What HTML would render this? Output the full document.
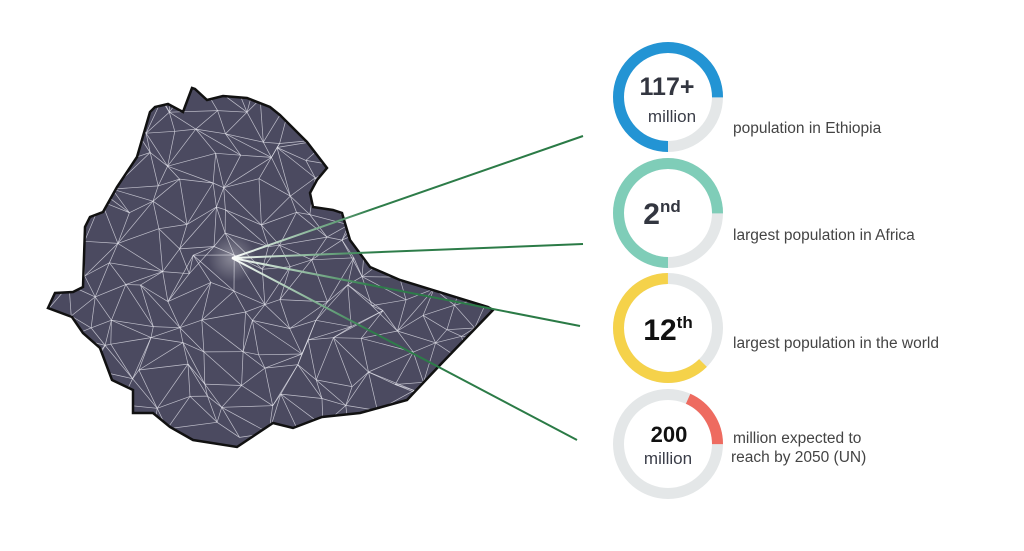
<!DOCTYPE html>
<html><head><meta charset="utf-8"><style>
html,body{margin:0;padding:0;background:#fff;}
svg{display:block;font-family:"Liberation Sans",sans-serif;}
</style></head><body>
<svg id="s" width="1024" height="551" viewBox="0 0 1024 551" xmlns="http://www.w3.org/2000/svg">
<defs>
<clipPath id="cp"><polygon id="pg" points="192,88 183,112 168,104 155,107 150,112 137,157 117,187 103,212 90,217 85,227 83,287 73,292 55,293 48,308 72,317 83,333 100,348 112,380 133,390 133,413 153,413 170,427 193,440 237,447 273,423 293,428 322,417 360,413 407,400 440,365 493,310 488,307 400,280 370,267 350,240 342,213 333,210 313,207 310,193 317,180 327,168 307,142 300,135 280,115 270,107 247,98 223,96 207,100 195,89"/></clipPath>
<radialGradient id="glow"><stop offset="0" stop-color="#fff" stop-opacity="0.35"/><stop offset="1" stop-color="#fff" stop-opacity="0"/></radialGradient>
<linearGradient id="g1" gradientUnits="userSpaceOnUse" x1="232" y1="258" x2="583" y2="136"><stop offset="0" stop-color="#fff"/><stop offset="0.4" stop-color="#2e7d4a"/><stop offset="1" stop-color="#2a7a45"/></linearGradient>
<linearGradient id="g2" gradientUnits="userSpaceOnUse" x1="232" y1="258" x2="583" y2="244"><stop offset="0" stop-color="#fff"/><stop offset="0.4" stop-color="#2e7d4a"/><stop offset="1" stop-color="#2a7a45"/></linearGradient>
<linearGradient id="g3" gradientUnits="userSpaceOnUse" x1="232" y1="258" x2="580" y2="326"><stop offset="0" stop-color="#fff"/><stop offset="0.4" stop-color="#2e7d4a"/><stop offset="1" stop-color="#2a7a45"/></linearGradient>
<linearGradient id="g4" gradientUnits="userSpaceOnUse" x1="232" y1="258" x2="577" y2="440"><stop offset="0" stop-color="#fff"/><stop offset="0.4" stop-color="#2e7d4a"/><stop offset="1" stop-color="#2a7a45"/></linearGradient>
</defs>
<use href="#pg" fill="#4b4a60"/>
<g id="mesh" clip-path="url(#cp)" stroke="#e8e8f0" stroke-width="0.7" stroke-opacity="0.75" fill="none"></g>
<use href="#pg" fill="none" stroke="#111" stroke-width="2.5"/>
<circle cx="232" cy="258" r="24" fill="url(#glow)"/>
<g stroke-width="2">
<line x1="232" y1="258" x2="583" y2="136" stroke="url(#g1)"/>
<line x1="232" y1="258" x2="583" y2="244" stroke="url(#g2)"/>
<line x1="232" y1="258" x2="580" y2="326" stroke="url(#g3)"/>
<line x1="232" y1="258" x2="577" y2="440" stroke="url(#g4)"/>
</g>
<g fill="none" stroke-width="11">
<circle cx="668" cy="97" r="49.5" stroke="#e4e7e8"/>
<circle cx="668" cy="97" r="49.5" stroke="#2394d4" stroke-dasharray="233.3 400" transform="rotate(90 668 97)"/>
<circle cx="668" cy="213" r="49.5" stroke="#e4e7e8"/>
<circle cx="668" cy="213" r="49.5" stroke="#7fcdb8" stroke-dasharray="233.3 400" transform="rotate(90 668 213)"/>
<circle cx="668" cy="328" r="49.5" stroke="#e4e7e8"/>
<circle cx="668" cy="328" r="49.5" stroke="#f5d24a" stroke-dasharray="194 400" transform="rotate(45 668 328)"/>
<circle cx="668" cy="444" r="49.5" stroke="#e4e7e8"/>
<circle cx="668" cy="444" r="49.5" stroke="#ee6b60" stroke-dasharray="57 400" transform="rotate(-66 668 444)"/>
</g>
<g fill="#333640" text-anchor="middle">
<text x="667" y="95" font-size="25" font-weight="bold">117+</text>
<text x="672" y="122" font-size="17" fill="#3a3d48">million</text>
<text x="662" y="224" font-size="30" font-weight="bold">2<tspan font-size="17" dy="-12">nd</tspan></text>
<text x="668" y="340" font-size="30" font-weight="bold" fill="#111">12<tspan font-size="17" dy="-12">th</tspan></text>
<text x="669" y="442" font-size="22" font-weight="bold" fill="#111">200</text>
<text x="668" y="464" font-size="17" fill="#3a3d48">million</text>
</g>
<g fill="#444" font-size="15.5">
<text x="733" y="133">population in Ethiopia</text>
<text x="733" y="240">largest population in Africa</text>
<text x="733" y="348">largest population in the world</text>
<text x="733" y="443">million expected to</text>
<text x="731" y="462">reach by 2050 (UN)</text>
</g>
</svg>
<script>
(function(){
var seed=11;function r(){seed=(seed*16807)%2147483647;return seed/2147483647;}
var pts=[],cols=17,rows=14,x0=38,y0=78,dx=28,dy=27;
for(var j=0;j<rows;j++){pts[j]=[];for(var i=0;i<cols;i++){pts[j][i]=[x0+i*dx+(r()-0.5)*26,y0+j*dy+(r()-0.5)*24];}}
var g=document.getElementById('mesh'),h='';
function L(a,b){h+='<line x1="'+a[0].toFixed(1)+'" y1="'+a[1].toFixed(1)+'" x2="'+b[0].toFixed(1)+'" y2="'+b[1].toFixed(1)+'"/>';}
for(var j=0;j<rows;j++)for(var i=0;i<cols;i++){
 if(i<cols-1)L(pts[j][i],pts[j][i+1]);
 if(j<rows-1){L(pts[j][i],pts[j+1][i]);
  if(i<cols-1){ if(r()<0.5)L(pts[j][i],pts[j+1][i+1]); else L(pts[j][i+1],pts[j+1][i]); }}
}
g.innerHTML=h;
})();
</script>
</body></html>
